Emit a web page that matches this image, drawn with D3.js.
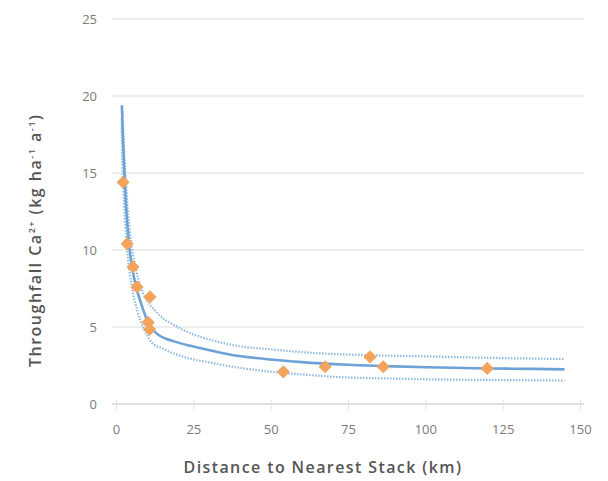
<!DOCTYPE html>
<html>
<head>
<meta charset="utf-8">
<script src="https://cdn.jsdelivr.net/npm/d3@7"></script>
<style>
  html, body { margin: 0; padding: 0; background: #ffffff; }
  svg { display: block; }
  text { font-family: "Open Sans", "Noto Sans", sans-serif; }
</style>
</head>
<body>
<svg id="chart" width="608" height="481"></svg>
<script>
// ---- Data ----
const xTicks = [0, 25, 50, 75, 100, 125, 150];
const yTicks = [0, 5, 10, 15, 20, 25];

// observed throughfall points: distance (km), Ca2+ (kg/ha/a)
const obsDistance = [2.3, 3.6, 5.5, 6.8, 11.0, 10.4, 10.9, 54.1, 67.6, 82.1, 86.4, 120.0];
const obsCa       = [14.4, 10.4, 8.9, 7.6, 6.95, 5.3, 4.85, 2.09, 2.42, 3.06, 2.42, 2.31];

// fitted curve
const fitX = [1.9, 2.2, 2.6, 3.0, 3.6, 4.3, 5.2, 6.5, 8.0, 9.0, 10, 11, 12.5, 14, 16, 19, 24, 30, 37, 47, 60, 75, 90, 105, 120, 135, 145];
const fitY = [19.4, 17.5, 15.5, 13.8, 11.8, 10.2, 8.9, 7.6, 6.6, 6.0, 5.45, 5.05, 4.7, 4.45, 4.25, 4.05, 3.78, 3.5, 3.2, 2.95, 2.72, 2.55, 2.44, 2.37, 2.31, 2.28, 2.25];

// upper confidence band
const upperX = [2.1, 2.5, 3.0, 3.6, 4.3, 5.2, 6.5, 8.0, 10, 12.5, 15, 19, 24, 30, 40, 50, 65, 80, 98, 120, 145];
const upperY = [19.0, 17.0, 15.0, 13.2, 11.6, 10.1, 8.7, 7.6, 6.7, 6.1, 5.6, 5.1, 4.6, 4.2, 3.75, 3.55, 3.3, 3.18, 3.1, 3.0, 2.92];

// lower confidence band
const lowerX = [1.8, 2.0, 2.4, 3.0, 3.6, 4.4, 5.5, 7.0, 8.5, 10, 11.5, 15, 19, 24, 30, 40, 50, 60, 72, 90, 110, 130, 145];
const lowerY = [18.5, 16.0, 13.8, 11.5, 10.0, 8.6, 7.2, 6.0, 5.1, 4.5, 4.0, 3.6, 3.25, 2.95, 2.7, 2.35, 2.1, 1.92, 1.75, 1.65, 1.58, 1.55, 1.52];

// ---- Drawing ----
const svg = d3.select("#chart");
const x = d3.scaleLinear().domain([0, 150]).range([116, 580]);
const y = d3.scaleLinear().domain([0, 25]).range([404, 19]);

const gridColor = "#e8e8e8";
const labelColor = "#7a7a7a";

// horizontal gridlines
svg.append("g")
  .selectAll("line")
  .data(yTicks.filter(d => d > 0))
  .join("line")
  .attr("x1", 112).attr("x2", 584)
  .attr("y1", d => y(d)).attr("y2", d => y(d))
  .attr("stroke", gridColor).attr("stroke-width", 1.3);

// y axis labels
const yAxis = d3.axisLeft(y).tickValues(yTicks).tickSize(0).tickPadding(0);
const gy = svg.append("g").attr("transform", "translate(97,0)").call(yAxis);
gy.select(".domain").remove();
gy.selectAll("text").attr("fill", labelColor).attr("font-size", 13).attr("font-family", "Open Sans, sans-serif");

// x axis
const xAxis = d3.axisBottom(x).tickValues(xTicks).tickSize(7).tickPadding(14);
const gx = svg.append("g").attr("transform", `translate(0,${y(0)})`).call(xAxis);
gx.select(".domain").attr("stroke", "#d6d6d6").attr("stroke-width", 1.3)
  .attr("d", `M112,0H584`);
gx.selectAll(".tick line").attr("stroke", "#cfcfcf").attr("y1", -4).attr("stroke-dasharray", "1.5,1.5");
gx.selectAll("text").attr("fill", labelColor).attr("font-size", 13).attr("font-family", "Open Sans, sans-serif");

// lines
const line = d3.line().x(d => x(d[0])).y(d => y(d[1])).curve(d3.curveMonotoneX);
const zip = (a, b) => a.map((v, i) => [v, b[i]]);

svg.append("path").datum(zip(upperX, upperY)).attr("d", line)
  .attr("fill", "none").attr("stroke", "#86b5e0").attr("stroke-width", 2.2)
  .attr("stroke-dasharray", "1.4,1.6");
svg.append("path").datum(zip(lowerX, lowerY)).attr("d", line)
  .attr("fill", "none").attr("stroke", "#86b5e0").attr("stroke-width", 2.2)
  .attr("stroke-dasharray", "1.4,1.6");
svg.append("path").datum(zip(fitX, fitY)).attr("d", line)
  .attr("fill", "none").attr("stroke", "#6ca2d6").attr("stroke-width", 2.6);

// observed points (diamonds = squares rotated 45°)
const sym = d3.symbol().type(d3.symbolSquare).size(62);
svg.append("g").selectAll("path")
  .data(zip(obsDistance, obsCa))
  .join("path")
  .attr("d", sym)
  .attr("transform", d => `translate(${x(d[0])},${y(d[1])}) rotate(45)`)
  .attr("fill", "#f4a35c").attr("stroke", "#f4a35c").attr("stroke-width", 1.5).attr("stroke-linejoin", "round");

// axis titles
svg.append("text")
  .attr("x", 323).attr("y", 473)
  .attr("text-anchor", "middle")
  .attr("fill", "#555555").attr("font-size", 16).attr("font-weight", 600)
  .attr("letter-spacing", 1.4)
  .text("Distance to Nearest Stack (km)");

const yt = svg.append("text")
  .attr("transform", "translate(41,367) rotate(-90)")
  .attr("text-anchor", "start")
  .attr("fill", "#555555").attr("font-size", 16).attr("font-weight", 600)
  .attr("letter-spacing", 1.5);
yt.append("tspan").text("Throughfall Ca");
yt.append("tspan").attr("font-size", 9).attr("dy", -6).text("2+");
yt.append("tspan").attr("dy", 6).text(" (kg ha");
yt.append("tspan").attr("font-size", 9).attr("dy", -6).text("-1");
yt.append("tspan").attr("dy", 6).text(" a");
yt.append("tspan").attr("font-size", 9).attr("dy", -6).text("-1");
yt.append("tspan").attr("dy", 6).text(")");
</script>
</body>
</html>
